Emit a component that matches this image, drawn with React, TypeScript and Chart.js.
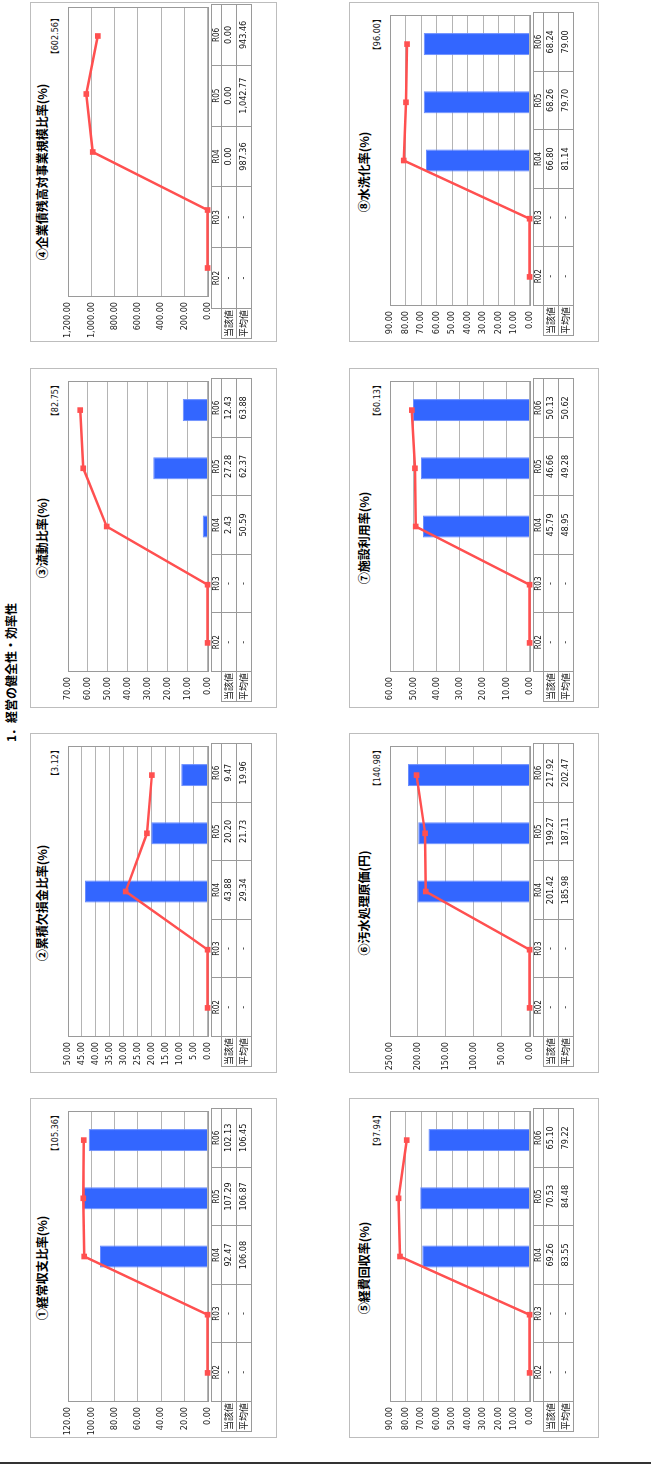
import React, { useEffect, useRef } from "react";
import { Chart, registerables } from "chart.js";

Chart.register(...registerables);

// ---------- data ----------
const categories = ["R02", "R03", "R04", "R05", "R06"];
const rowLabels = ["当該値", "平均値"];
const pageTitle = "1．経営の健全性・効率性";

const titles = [
  "①経常収支比率(%)",
  "②累積欠損金比率(%)",
  "③流動比率(%)",
  "④企業債残高対事業規模比率(%)",
  "⑤経費回収率(%)",
  "⑥汚水処理原価(円)",
  "⑦施設利用率(%)",
  "⑧水洗化率(%)",
];
const brackets = ["105.36", "3.12", "82.75", "602.56", "97.94", "140.98", "60.13", "96.00"];
const yMaxes = [120, 50, 70, 1200, 90, 250, 60, 90];
const ySteps = [20, 5, 10, 200, 10, 50, 10, 10];

const current1 = [null, null, 92.47, 107.29, 102.13];
const average1 = [null, null, 106.08, 106.87, 106.45];
const current2 = [null, null, 43.88, 20.2, 9.47];
const average2 = [null, null, 29.34, 21.73, 19.96];
const current3 = [null, null, 2.43, 27.28, 12.43];
const average3 = [null, null, 50.59, 62.37, 63.88];
const current4 = [null, null, 0, 0, 0];
const average4 = [null, null, 987.36, 1042.77, 943.46];
const current5 = [null, null, 69.26, 70.53, 65.1];
const average5 = [null, null, 83.55, 84.48, 79.22];
const current6 = [null, null, 201.42, 199.27, 217.92];
const average6 = [null, null, 185.98, 187.11, 202.47];
const current7 = [null, null, 45.79, 46.66, 50.13];
const average7 = [null, null, 48.95, 49.28, 50.62];
const current8 = [null, null, 66.8, 68.26, 68.24];
const average8 = [null, null, 81.14, 79.7, 79.0];

const currents = [current1, current2, current3, current4, current5, current6, current7, current8];
const averages = [average1, average2, average3, average4, average5, average6, average7, average8];

// ---------- style / layout ----------
const NUM_FONT = "'Liberation Sans Narrow', 'DejaVu Sans Condensed', 'Arial Narrow', 'Noto Sans CJK JP', sans-serif";
const JP_FONT = "'Noto Sans CJK JP', 'Noto Sans', sans-serif";
const GRID = "#b4b4b4";
const FRAME = "#9a9a9a";
const BAR = "#3366ff";
const LINE = "#ff5050";

const PANEL_W = 340;
const PLOT_T = 37;
const PLOT_B = 177;
const CANVAS_TOP = 25;
const CANVAS_H = 162;

type Geo = { plotL: number; plotR: number; labL: number; tabL: number; tabR: number; brR: number };
const defaultGeo: Geo = { plotL: 35, plotR: 328, labL: 5, tabL: 35, tabR: 328, brR: 327 };
const wideGeo: Geo = { plotL: 44, plotR: 336, labL: 2, tabL: 32, tabR: 336, brR: 328 };
const geoFor = (idx: number) => (idx === 3 ? wideGeo : defaultGeo);

const fmt = (v: number) =>
  v.toLocaleString("en-US", { minimumFractionDigits: 2, maximumFractionDigits: 2 });

const framePlugin = {
  id: "frameBox",
  beforeDatasetsDraw(chart: any) {
    const { ctx, chartArea } = chart;
    ctx.save();
    ctx.strokeStyle = FRAME;
    ctx.lineWidth = 1;
    ctx.strokeRect(
      Math.round(chartArea.left) + 0.5,
      Math.round(chartArea.top) + 0.5,
      Math.round(chartArea.right - chartArea.left) - 1,
      Math.round(chartArea.bottom - chartArea.top)
    );
    ctx.restore();
  },
};

function MiniChart({ idx }: { idx: number }) {
  const ref = useRef<HTMLCanvasElement | null>(null);
  const g = geoFor(idx);
  const cw = g.plotR + 2;
  useEffect(() => {
    if (!ref.current) return;
    const chart = new Chart(ref.current, {
      type: "bar",
      data: {
        labels: categories,
        datasets: [
          {
            type: "line",
            data: averages[idx].map((v) => (v == null ? 0 : v)),
            borderColor: LINE,
            backgroundColor: LINE,
            borderWidth: 2.5,
            pointStyle: "rect",
            pointRadius: 4,
            pointBorderWidth: 0,
            pointBackgroundColor: LINE,
            tension: 0,
            clip: false,
            order: 0,
          } as any,
          {
            type: "bar",
            data: currents[idx],
            backgroundColor: BAR,
            borderColor: "#6a8dff",
            borderWidth: 1,
            barPercentage: 0.38,
            categoryPercentage: 1,
            order: 1,
          } as any,
        ],
      },
      options: {
        responsive: false,
        animation: false,
        layout: {
          padding: {
            top: PLOT_T - CANVAS_TOP,
            bottom: CANVAS_TOP + CANVAS_H - PLOT_B,
            right: cw - g.plotR,
            left: 0,
          },
        },
        plugins: { legend: { display: false }, tooltip: { enabled: false } },
        scales: {
          x: { display: false, offset: true, grid: { display: false } },
          y: {
            min: 0,
            max: yMaxes[idx],
            ticks: {
              stepSize: ySteps[idx],
              callback: (v: any) => fmt(Number(v)),
              font: { family: NUM_FONT, size: 9 },
              color: "#222",
              padding: 5,
            },
            grid: { color: GRID, drawTicks: false, lineWidth: 1 },
            border: { display: true, color: FRAME },
            afterFit: (s: any) => {
              s.width = g.plotL;
            },
          } as any,
        },
      },
      plugins: [framePlugin],
    });
    return () => chart.destroy();
  }, [idx]);
  return (
    <canvas
      ref={ref}
      width={cw}
      height={CANVAS_H}
      style={{ position: "absolute", left: 0, top: CANVAS_TOP, width: cw, height: CANVAS_H }}
    />
  );
}

function cellStyle(left: number, top: number, w: number, h: number): React.CSSProperties {
  return {
    position: "absolute",
    left,
    top,
    width: w + 1,
    height: h + 1,
    border: "1px solid #9a9a9a",
    boxSizing: "border-box",
    textAlign: "center",
    color: "#111",
    overflow: "hidden",
    whiteSpace: "nowrap",
  };
}

function DataTable({ idx }: { idx: number }) {
  const g = geoFor(idx);
  const colW = (g.tabR - g.tabL) / categories.length;
  const top0 = 180;
  const hH = 10;
  const rH = 15;
  const cells: React.ReactNode[] = [];
  categories.forEach((c, i) => {
    cells.push(
      <div
        key={"h" + i}
        style={{
          ...cellStyle(g.tabL + i * colW, top0, colW, hH),
          fontFamily: NUM_FONT,
          fontSize: 8,
          lineHeight: "10px",
        }}
      >
        {c}
      </div>
    );
  });
  const rows = [currents[idx], averages[idx]];
  rows.forEach((row, r) => {
    const y = top0 + hH + r * rH;
    cells.push(
      <div
        key={"l" + r}
        style={{
          ...cellStyle(g.labL, y, g.tabL - g.labL, rH),
          fontFamily: JP_FONT,
          fontSize: 9,
          lineHeight: "13px",
        }}
      >
        {rowLabels[r]}
      </div>
    );
    row.forEach((v, i) => {
      cells.push(
        <div
          key={"c" + r + "_" + i}
          style={{
            ...cellStyle(g.tabL + i * colW, y, colW, rH),
            fontFamily: NUM_FONT,
            fontSize: 9,
            lineHeight: "13px",
          }}
        >
          {v == null ? "-" : fmt(v)}
        </div>
      );
    });
  });
  return <>{cells}</>;
}

function Panel({ idx, left, top, height, dy }: { idx: number; left: number; top: number; height: number; dy: number }) {
  const g = geoFor(idx);
  return (
    <div
      style={{
        position: "absolute",
        left,
        top,
        width: PANEL_W,
        height,
        border: "1px solid #bdbdbd",
        boxSizing: "border-box",
        background: "#fff",
      }}
    >
      <div style={{ position: "absolute", left: 0, top: dy, width: PANEL_W, height: 250 }}>
        <div
          style={{
            position: "absolute",
            left: 0,
            top: 3,
            width: PANEL_W - 2,
            textAlign: "center",
            fontFamily: JP_FONT,
            fontWeight: 700,
            fontSize: 12,
            lineHeight: "15px",
            color: "#000",
            whiteSpace: "nowrap",
          }}
        >
          {titles[idx]}
        </div>
        <div
          style={{
            position: "absolute",
            right: PANEL_W - g.brR,
            top: 19,
            fontFamily: NUM_FONT,
            fontSize: 9,
            lineHeight: "10px",
            color: "#111",
            whiteSpace: "nowrap",
          }}
        >
          【{brackets[idx]}】
        </div>
        <MiniChart idx={idx} />
        <DataTable idx={idx} />
      </div>
    </div>
  );
}

const panelXs = [27, 392, 757, 1123];

export default function App() {
  return (
    <div style={{ position: "absolute", left: 0, top: 0, width: 651, height: 1465, overflow: "hidden", background: "#fff" }}>
      <div
        style={{
          position: "absolute",
          left: 0,
          top: 0,
          width: 1465,
          height: 651,
          transformOrigin: "0 0",
          transform: "translateY(1465px) rotate(-90deg)",
          background: "#fff",
        }}
      >
        <div
          style={{
            position: "absolute",
            left: 723,
            top: 3,
            fontFamily: JP_FONT,
            fontWeight: 700,
            fontSize: 12,
            lineHeight: "15px",
            color: "#000",
            whiteSpace: "nowrap",
          }}
        >
          {pageTitle}
        </div>
        {panelXs.map((x, i) => (
          <Panel key={"a" + i} idx={i} left={x} top={30} height={247} dy={0} />
        ))}
        {panelXs.map((x, i) => (
          <Panel key={"b" + i} idx={i + 4} left={x} top={349} height={250} dy={3} />
        ))}
        <div style={{ position: "absolute", left: 1, top: 0, width: 1.5, height: 651, background: "#333" }} />
      </div>
    </div>
  );
}
